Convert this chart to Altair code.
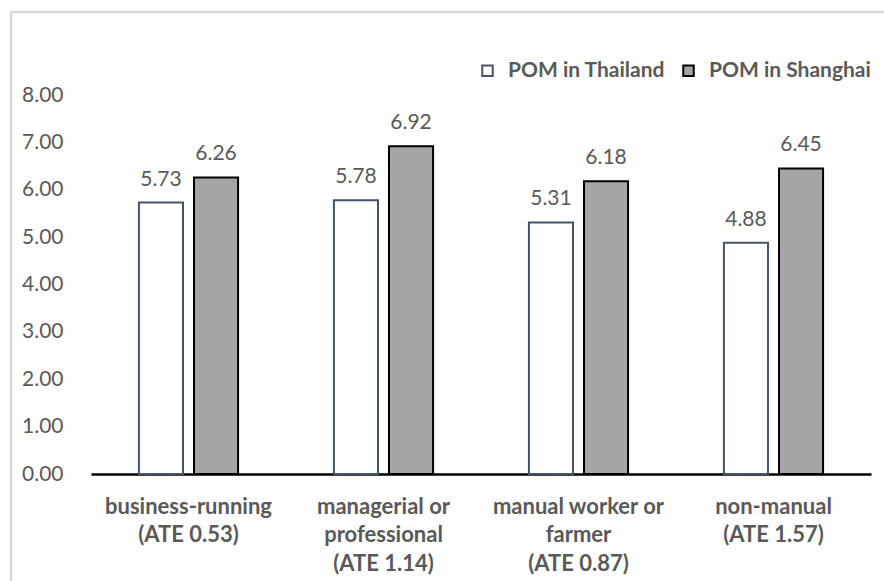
import altair as alt
import pandas as pd

categories = [
    "business-running|(ATE 0.53)",
    "managerial or|professional|(ATE 1.14)",
    "manual worker or|farmer|(ATE 0.87)",
    "non-manual|(ATE 1.57)",
]
series_names = ["POM in Thailand", "POM in Shanghai"]
thailand = [5.73, 5.78, 5.31, 4.88]
shanghai = [6.26, 6.92, 6.18, 6.45]

rows = []
for c, t, s in zip(categories, thailand, shanghai):
    rows.append({"cat": c, "series": series_names[0], "value": t})
    rows.append({"cat": c, "series": series_names[1], "value": s})
df = pd.DataFrame(rows)

FONT = "Lato"
TXT = "#595959"

x_enc = alt.X("cat:N", sort=categories, title=None,
              scale=alt.Scale(paddingInner=0, paddingOuter=0),
              axis=alt.Axis(labelExpr="split(datum.label, '|')", labelAngle=0,
                            labelFont=FONT, labelFontSize=22, labelFontWeight="bold",
                            labelColor=TXT, labelLineHeight=28.5, labelPadding=32,
                            ticks=False, domainColor="black", domainWidth=2.5,
                            labelBaseline="middle"))
xo_enc = alt.XOffset("series:N", sort=series_names,
                     scale=alt.Scale(paddingInner=0.2, paddingOuter=0.87))
y_enc = alt.Y("value:Q", title=None,
              scale=alt.Scale(domain=[0, 8], nice=False),
              axis=alt.Axis(values=[0, 1, 2, 3, 4, 5, 6, 7, 8], format=".2f",
                            grid=False, domain=False, ticks=False,
                            labelFont=FONT, labelFontSize=21, labelColor=TXT,
                            labelPadding=28))

legend = alt.Legend(title=None, orient="none", legendX=386, legendY=-35,
                    direction="horizontal", symbolType="square", symbolSize=110,
                    symbolStrokeWidth=2, labelFont=FONT, labelFontSize=21,
                    labelFontWeight="bold", labelColor=TXT, columnPadding=12,
                    labelOffset=10, labelLimit=300)

bars = alt.Chart(df).mark_bar(strokeWidth=2).encode(
    x=x_enc,
    xOffset=xo_enc,
    y=y_enc,
    fill=alt.Fill("series:N", sort=series_names,
                  scale=alt.Scale(domain=series_names, range=["white", "#A5A5A5"]),
                  legend=legend),
    stroke=alt.Stroke("series:N", sort=series_names,
                      scale=alt.Scale(domain=series_names, range=["#44546A", "black"]),
                      legend=legend),
)

labels = alt.Chart(df).mark_text(baseline="bottom", dy=-13, font=FONT,
                                 fontSize=21, color=TXT).encode(
    x=alt.X("cat:N", sort=categories),
    xOffset=alt.XOffset("series:N", sort=series_names),
    y="value:Q",
    text=alt.Text("value:Q", format=".2f"),
)

frame = alt.Chart(pd.DataFrame({"k": [0]})).mark_rect(
    filled=False, stroke="#D9D9D9", strokeWidth=2.5
).encode(
    x=alt.value(-80), x2=alt.value(900), y=alt.value(-83), y2=alt.value(600)
)

chart = alt.layer(frame, bars, labels).properties(
    width=780, height=379,
    padding={"left": 91, "top": 95, "right": 13, "bottom": 107},
    autosize=alt.AutoSizeParams(type="none"),
    background="white",
).configure_view(stroke=None)

chart.save("out.html", embed_options={"renderer": "svg", "actions": False})
